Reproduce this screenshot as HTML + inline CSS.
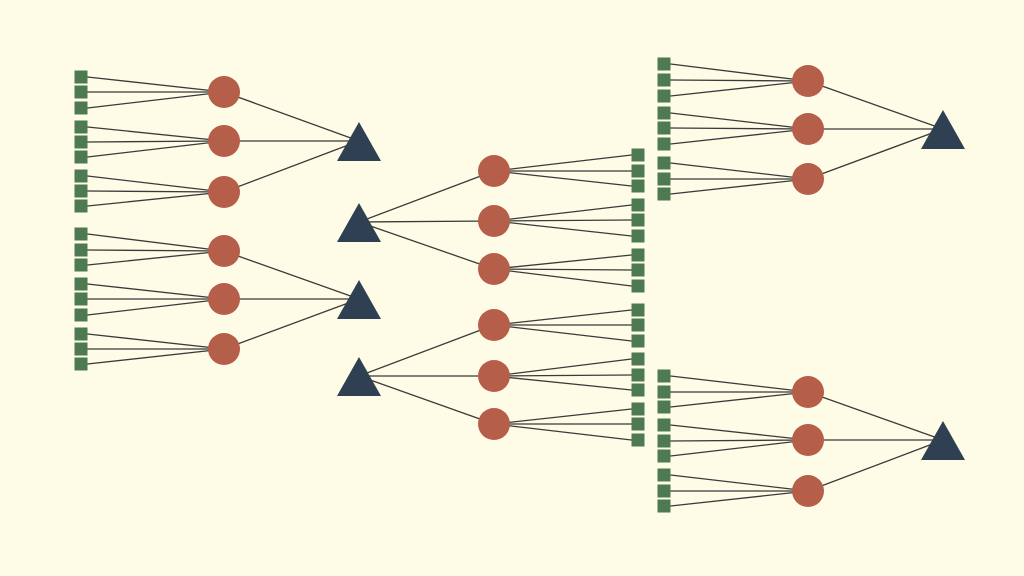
<!DOCTYPE html>
<html><head><meta charset="utf-8"><style>html,body{margin:0;padding:0;background:#fefce6;}svg{display:block}</style></head>
<body>
<svg id="s" width="1024" height="576" viewBox="0 0 1024 576" xmlns="http://www.w3.org/2000/svg">
<rect width="1024" height="576" fill="#fefce6"/>
<g id="L" stroke="#3a3a3a" stroke-width="1.3" fill="none"></g>
<g id="N"></g>
</svg>
<script>
var L=document.getElementById('L'),N=document.getElementById('N'),ns='http://www.w3.org/2000/svg';
function el(p,t,a){var e=document.createElementNS(ns,t);for(var k in a)e.setAttribute(k,a[k]);p.appendChild(e);return e;}
function line(x1,y1,x2,y2){el(L,'line',{x1:x1,y1:y1,x2:x2,y2:y2});}
function sq(cx,cy){el(N,'rect',{x:cx-6.5,y:cy-6.5,width:13,height:13,fill:'#4e7a52'});}
function circ(cx,cy){el(N,'circle',{cx:cx,cy:cy,r:16,fill:'#b55e4a'});}
function tri(cx,apex){el(N,'polygon',{points:cx+','+apex+' '+(cx-22)+','+(apex+39)+' '+(cx+22)+','+(apex+39),fill:'#2e4051'});}
// cluster: tri (tx,apex), circles at cx with ys, squares at sx with ys arrays
function cluster(tx,apex,cx,cys,sx,sys,left){
  var ty=apex+19;
  tri(tx,apex);
  for(var i=0;i<3;i++){
    line(tx,ty,cx,cys[i]);circ(cx,cys[i]);
    for(var j=0;j<3;j++){var y=sys[i*3+j];
      line(cx,cys[i],left?sx+6.5:sx-6.5,y);sq(sx,y);}
  }
}
cluster(359,122,224,[92,141,192],81,[77,92,108,127,142,157,176,191,206],true);
cluster(359,280,224,[251,299,349],81,[234,250,265,284,299,315,334,349,364],true);
cluster(359,203,494,[171,221,269],638,[155,171,186,205,220,236,255,270,286],false);
cluster(359,357,494,[325,376,424],638,[310,325,341,359,375,390,409,424,440],false);
cluster(943,110,808,[81,129,179],664,[64,80,96,113,128,144,163,179,194],true);
cluster(943,421,808,[392,440,491],664,[376,392,407,425,441,456,475,491,506],true);
</script>
</body></html>
